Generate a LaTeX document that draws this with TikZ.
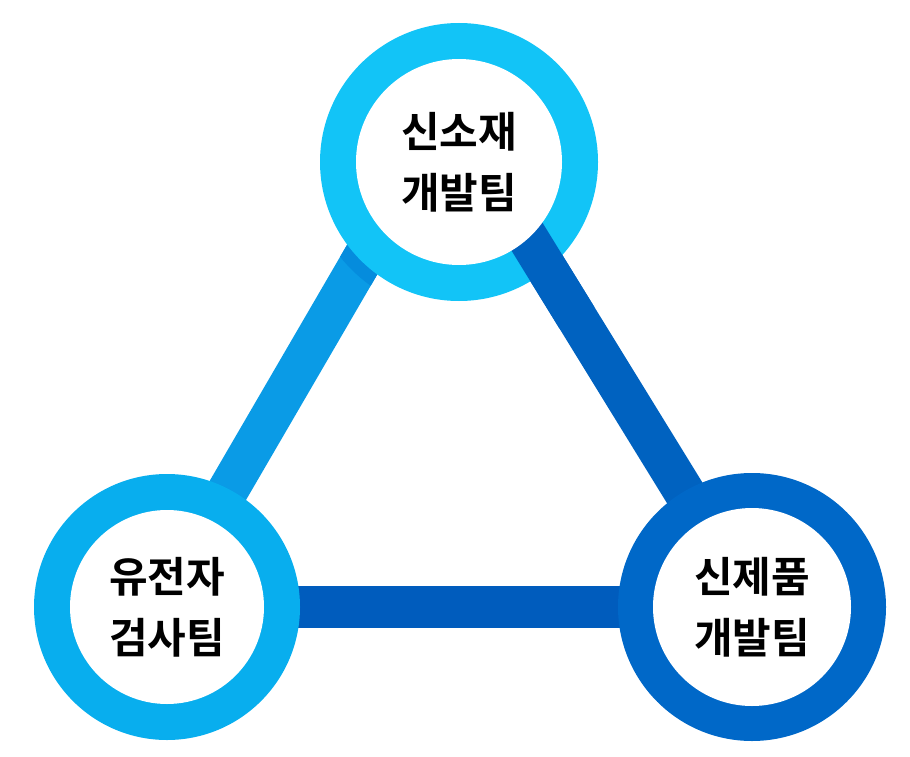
\documentclass[tikz,border=0pt]{standalone}
\usepackage{fontspec}
\usepackage{tikz}
\usetikzlibrary{calc,backgrounds}
\newfontfamily\kofont{Noto Sans CJK KR}[BoldFont={Noto Sans CJK KR Bold}]
\definecolor{RingCyan}{HTML}{12C4F7}
\definecolor{RingSky}{HTML}{08AEEE}
\definecolor{RingBlue}{HTML}{0068C8}
\definecolor{LinkSky}{HTML}{0A9BE6}
\definecolor{LinkShade}{HTML}{058CDD}
\definecolor{LinkBlue}{HTML}{0062C0}
\definecolor{LinkDeep}{HTML}{005CBD}
\tikzset{
  ringdisc/.style={circle, inner sep=0pt, draw=none},
  teamhole/.style={
    circle,
    fill=white,
    inner sep=0pt,
    align=center,
    font=\kofont\bfseries\fontsize{42}{61}\selectfont
  },
  linkbar/.style={line width=41pt, line cap=butt}
}
\begin{document}
\begin{tikzpicture}[x=1pt,y=-1pt]
  \useasboundingbox (0,0) rectangle (910,757);

  \node[ringdisc, fill=RingCyan, minimum size=278pt] (topring) at (459,162) {};
  \node[ringdisc, fill=RingSky, minimum size=266pt] (leftring) at (167,607) {};
  \node[ringdisc, fill=RingBlue, minimum size=268pt] (rightring) at (752,607) {};

  % bar ends, a little off the centres
  \coordinate (topleftend) at ([xshift=-40pt]topring.center);
  \coordinate (toprightend) at ([xshift=22pt]topring.center);
  \coordinate (leftend) at ([xshift=-7pt]leftring.center);
  \coordinate (rightend) at ([xshift=3pt]rightring.center);

  \begin{pgfonlayer}{background}
    \draw[linkbar, LinkSky] (topleftend) -- (leftend);
    \draw[linkbar, LinkBlue] (toprightend) -- (rightend);
    \draw[linkbar, LinkDeep, line width=42pt] (leftring.center) -- (rightring.center);
    % shade under the top ring
    \begin{scope}
      \clip (topring.center) circle (152pt);
      \draw[linkbar, LinkShade] (topleftend) -- (leftend);
    \end{scope}
  \end{pgfonlayer}

  % the right bar runs over the top ring
  \draw[linkbar, LinkBlue] (toprightend) -- ($(toprightend)!0.35!(rightend)$);

  \node[teamhole, minimum size=206pt] (sinsojae) at (topring) {신소재\\개발팀};
  \node[teamhole, minimum size=194pt] (yujeonja) at (leftring) {유전자\\검사팀};
  \node[teamhole, minimum size=198pt] (sinjepum) at (rightring) {신제품\\개발팀};
\end{tikzpicture}
\end{document}
